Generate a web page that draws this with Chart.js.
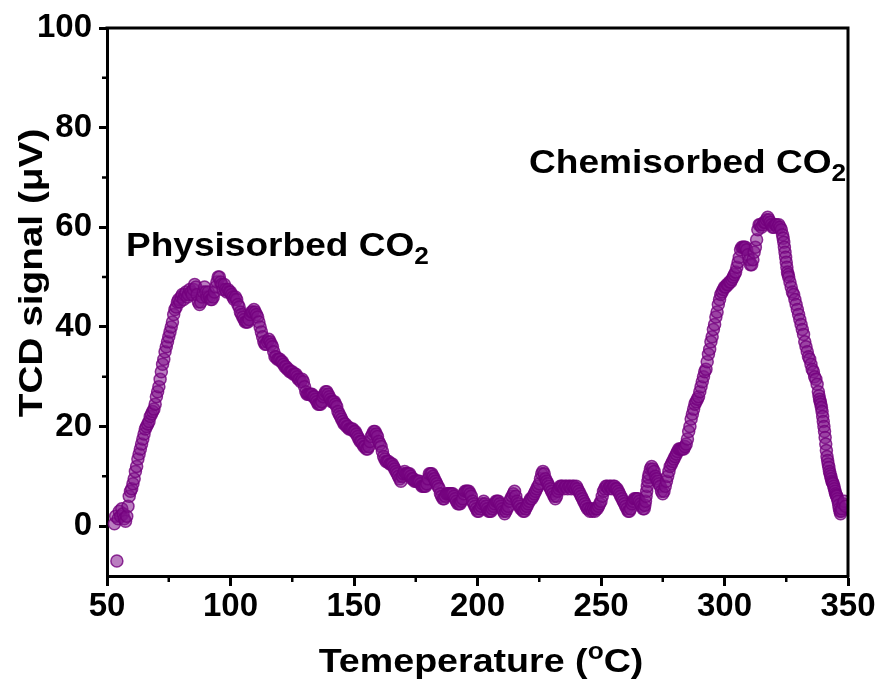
<!DOCTYPE html>
<html>
<head>
<meta charset="utf-8">
<title>TCD signal</title>
<script src="https://cdn.jsdelivr.net/npm/chart.js@4.4.1/dist/chart.umd.min.js"></script>
<style>
  html, body { margin: 0; padding: 0; background: #fff; }
  #chart { display: block; }
</style>
</head>
<body>
<canvas id="chart" width="880" height="686"></canvas>
<script>
// ==================== DATA ====================

const temperature = [
  53, 53.5, 54, 54.5, 55, 55.5, 56, 56.5, 57, 57.5,
  58, 58.5, 59, 59.5, 60, 60.5, 61, 61.5, 62, 62.5,
  63, 63.5, 64, 64.5, 65, 65.5, 66, 66.5, 67, 67.5,
  68, 68.5, 69, 69.5, 70, 70.5, 71, 71.5, 72, 72.5,
  73, 73.5, 74, 74.5, 75, 75.5, 76, 76.5, 77, 77.5,
  78, 78.5, 79, 79.5, 80, 80.5, 81, 81.5, 82, 82.5,
  83, 83.5, 84, 84.5, 85, 85.5, 86, 86.5, 87, 87.5,
  88, 88.5, 89, 89.5, 90, 90.5, 91, 91.5, 92, 92.5,
  93, 93.5, 94, 94.5, 95, 95.5, 96, 96.5, 97, 97.5,
  98, 98.5, 99, 99.5, 100, 100.5, 101, 101.5, 102, 102.5,
  103, 103.5, 104, 104.5, 105, 105.5, 106, 106.5, 107, 107.5,
  108, 108.5, 109, 109.5, 110, 110.5, 111, 111.5, 112, 112.5,
  113, 113.5, 114, 114.5, 115, 115.5, 116, 116.5, 117, 117.5,
  118, 118.5, 119, 119.5, 120, 120.5, 121, 121.5, 122, 122.5,
  123, 123.5, 124, 124.5, 125, 125.5, 126, 126.5, 127, 127.5,
  128, 128.5, 129, 129.5, 130, 130.5, 131, 131.5, 132, 132.5,
  133, 133.5, 134, 134.5, 135, 135.5, 136, 136.5, 137, 137.5,
  138, 138.5, 139, 139.5, 140, 140.5, 141, 141.5, 142, 142.5,
  143, 143.5, 144, 144.5, 145, 145.5, 146, 146.5, 147, 147.5,
  148, 148.5, 149, 149.5, 150, 150.5, 151, 151.5, 152, 152.5,
  153, 153.5, 154, 154.5, 155, 155.5, 156, 156.5, 157, 157.5,
  158, 158.5, 159, 159.5, 160, 160.5, 161, 161.5, 162, 162.5,
  163, 163.5, 164, 164.5, 165, 165.5, 166, 166.5, 167, 167.5,
  168, 168.5, 169, 169.5, 170, 170.5, 171, 171.5, 172, 172.5,
  173, 173.5, 174, 174.5, 175, 175.5, 176, 176.5, 177, 177.5,
  178, 178.5, 179, 179.5, 180, 180.5, 181, 181.5, 182, 182.5,
  183, 183.5, 184, 184.5, 185, 185.5, 186, 186.5, 187, 187.5,
  188, 188.5, 189, 189.5, 190, 190.5, 191, 191.5, 192, 192.5,
  193, 193.5, 194, 194.5, 195, 195.5, 196, 196.5, 197, 197.5,
  198, 198.5, 199, 199.5, 200, 200.5, 201, 201.5, 202, 202.5,
  203, 203.5, 204, 204.5, 205, 205.5, 206, 206.5, 207, 207.5,
  208, 208.5, 209, 209.5, 210, 210.5, 211, 211.5, 212, 212.5,
  213, 213.5, 214, 214.5, 215, 215.5, 216, 216.5, 217, 217.5,
  218, 218.5, 219, 219.5, 220, 220.5, 221, 221.5, 222, 222.5,
  223, 223.5, 224, 224.5, 225, 225.5, 226, 226.5, 227, 227.5,
  228, 228.5, 229, 229.5, 230, 230.5, 231, 231.5, 232, 232.5,
  233, 233.5, 234, 234.5, 235, 235.5, 236, 236.5, 237, 237.5,
  238, 238.5, 239, 239.5, 240, 240.5, 241, 241.5, 242, 242.5,
  243, 243.5, 244, 244.5, 245, 245.5, 246, 246.5, 247, 247.5,
  248, 248.5, 249, 249.5, 250, 250.5, 251, 251.5, 252, 252.5,
  253, 253.5, 254, 254.5, 255, 255.5, 256, 256.5, 257, 257.5,
  258, 258.5, 259, 259.5, 260, 260.5, 261, 261.5, 262, 262.5,
  263, 263.5, 264, 264.5, 265, 265.5, 266, 266.5, 267, 267.5, 267.75,
  268, 268.25, 268.5, 268.75, 269, 269.25, 269.5, 270, 270.5, 271, 271.5, 272, 272.5,
  273, 273.5, 274, 274.5, 275, 275.5, 276, 276.5, 277, 277.5,
  278, 278.5, 279, 279.5, 280, 280.5, 281, 281.5, 282, 282.5,
  283, 283.5, 284, 284.5, 285, 285.5, 286, 286.5, 287, 287.5,
  288, 288.5, 289, 289.5, 290, 290.5, 291, 291.5, 292, 292.5,
  293, 293.5, 294, 294.5, 295, 295.5, 296, 296.5, 297, 297.5,
  298, 298.5, 299, 299.5, 300, 300.5, 301, 301.5, 302, 302.5,
  303, 303.5, 304, 304.5, 305, 305.5, 306, 306.5, 307, 307.5,
  308, 308.5, 309, 309.5, 310, 310.5, 311, 311.5, 312, 312.5,
  313, 313.5, 314, 314.5, 315, 315.5, 316, 316.5, 317, 317.5,
  318, 318.5, 319, 319.5, 320, 320.5, 321, 321.5, 322, 322.5,
  323, 323.5, 323.75, 324, 324.25, 324.5, 324.75, 325, 325.25, 325.5, 325.75, 326, 326.5, 327, 327.5,
  328, 328.5, 329, 329.5, 330, 330.5, 331, 331.5, 332, 332.5,
  333, 333.5, 334, 334.5, 335, 335.5, 336, 336.5, 337, 337.5,
  338, 338.25, 338.5, 338.75, 339, 339.25, 339.5, 339.75, 340, 340.25,
  340.5, 340.75, 341, 341.25, 341.5, 341.75, 342, 342.25, 342.5, 342.75,
  343, 343.25, 343.5, 343.75, 344, 344.25, 344.5, 344.75, 345, 345.25,
  345.5, 345.75, 346, 346.25, 346.5, 346.75, 347, 347.25, 347.5,
  348, 348.5, 349
];

const tcdSignal = [
  0.5, 2, -7, 1.5, 3, 2, 3.5, 2.5, 1.5, 1,
  2, 4, 6, 7, 7.5, 8.5, 9.5, 11, 12, 13.5,
  14.5, 15.5, 16.5, 17.5, 18.5, 19.5, 20, 20.5, 21, 22,
  22.5, 23, 23.5, 24.5, 26, 27, 28, 29.5, 31, 32.5,
  33.5, 35, 36, 37, 38, 39, 40, 41, 42.5, 43.5,
  44, 45, 45.5, 45, 46, 46.5, 45.5, 46.5, 47, 46,
  46.5, 47.5, 47, 46.5, 47.5, 48.5, 48, 46.5, 45, 44.5,
  45, 46, 47, 48, 47, 46, 47, 46, 45.5, 45.5,
  46, 47, 48, 49, 50, 50, 49, 48.5, 47.5, 48.5,
  47.5, 47, 47.5, 47, 47, 46.5, 46, 45.5, 46, 45.5,
  44.5, 44, 43, 42.5, 42, 41.5, 41, 41, 41, 41.5,
  42.5, 43, 43, 43.5, 43, 42.5, 42, 41, 40, 39,
  38, 37, 36.5, 36.5, 37, 37.5, 37, 36.5, 36, 35,
  34, 34, 33.5, 33.5, 33.5, 33, 33, 32.5, 32, 32,
  31.5, 31.5, 31, 31, 31, 30.5, 30.5, 30.5, 30, 29.5,
  29.5, 29, 29.5, 29, 28, 27, 26.5, 26.5, 26.5, 26.5,
  26.5, 26, 26, 25.5, 25, 24.5, 24.5, 24.5, 25, 26,
  26.5, 27, 27, 26.5, 26, 25.5, 25, 25, 25, 24.5,
  24, 23, 22.5, 22, 21.5, 21, 20.5, 20.5, 20, 20,
  19.5, 19.5, 19.5, 19.5, 19, 19, 18.5, 18, 17.5, 17,
  17, 16.5, 16, 16, 15.5, 15.5, 16, 17, 18, 18.5,
  19, 19, 18.5, 18, 17, 16.5, 16, 15, 14, 13.5,
  13, 13, 13, 12.5, 12.5, 12.5, 12, 11.5, 11, 10.5,
  10, 9.5, 9, 10, 10.5, 11, 10.5, 10.5, 10.5, 10.5,
  10, 9.5, 9.5, 9, 9, 9, 9, 9, 8.5, 8,
  8, 8, 8, 8.5, 9.5, 10.5, 10.5, 10.5, 10, 9.5,
  9, 8.5, 8, 7.5, 6.5, 6, 5.5, 5.5, 6, 6.5,
  6.5, 6.5, 6.5, 6.5, 6.5, 6, 5.5, 5, 4.5, 4.5,
  4.5, 5, 5.5, 6.5, 7, 7, 7, 7, 6.5, 6,
  5, 4.5, 4, 3.5, 3, 3, 3.5, 4, 4.5, 5,
  4.5, 4, 3.5, 3, 3, 3, 3.5, 4, 4.5, 5,
  5, 5, 4.5, 4, 3.5, 3, 2.5, 3, 3.5, 4,
  5, 5.5, 6, 6.5, 7, 6, 5, 4.5, 4, 3.5,
  3.5, 3, 3, 3.5, 4, 4.5, 5, 5.5, 5.5, 6,
  6.5, 7, 7.5, 8, 8.5, 9.5, 10.5, 11, 10.5, 9.5,
  9, 8.5, 8, 7.5, 7, 6.5, 6, 5.5, 6, 7,
  7.5, 8, 8, 8, 7.5, 8, 8, 7.5, 8, 8,
  7.5, 8, 8, 7.5, 8, 7.5, 7, 6.5, 6, 5.5,
  5, 4.5, 4, 3.5, 3.5, 3, 3.5, 3, 3.5, 3,
  3.5, 3.5, 4, 4.5, 5, 6, 7, 7.5, 8, 8,
  7.5, 8, 8, 7.5, 8, 8, 7.5, 7.5, 7, 6.5,
  6, 5.5, 5, 4.5, 4, 3.5, 3, 3, 3.5, 4.5,
  5, 5.5, 5.5, 5.5, 5.5, 5, 4.5, 4, 3.5, 3.5, 4.2,
  5, 6, 7, 8, 9, 9.8, 10.5, 11.5, 12, 11.5, 11, 10, 9.5,
  9, 8.5, 8, 7, 6.5, 7, 8, 9, 10, 11,
  12, 12.5, 13, 13.5, 14, 14.5, 15, 15.5, 15.5, 15.5,
  15.5, 15.5, 16, 16.5, 17.5, 19, 20, 21.5, 22.5, 23.5,
  24.5, 25, 25.5, 26, 27, 28, 29, 30, 31, 31.5,
  33, 34.5, 35.5, 37, 38, 39.5, 40.5, 42, 43, 44.5,
  45.5, 46.5, 47, 47.5, 48, 48, 48.5, 48.5, 49, 49,
  49.5, 50, 50.5, 51, 52, 53, 54, 55.5, 56, 56,
  56, 56, 55.5, 54.5, 53.5, 52.5, 52.5, 53.5, 55, 56,
  57.5, 59.5, 60.5, 60.5, 60, 60.5, 61, 61, 61.5, 62,
  61.5, 61, 60.5, 60, 60, 60.5, 60.5, 60, 60.5, 60,
  59.5, 58.5, 57.8, 57, 56, 55, 54, 53, 52, 51, 50.5, 50, 49, 48, 47,
  46.5, 45.5, 44.5, 43.5, 42.5, 41.5, 40.5, 39.5, 38.5, 37,
  36, 35, 34, 33.5, 32.5, 31.5, 31, 30, 29.5, 28.5,
  27, 26.2, 25.5, 25, 24.5, 23.8, 23, 22, 21, 20,
  19, 17.8, 16.5, 15.2, 14, 13.2, 12.5, 11.8, 11, 10.5,
  10, 9.5, 9, 8.7, 8.5, 8, 7.5, 7, 6.5, 6.2,
  6, 5.5, 5, 4.2, 3.5, 3, 2.5, 3, 3.5,
  4.5, 5, 4
];

// axis ticks
const xTicks = [50, 100, 150, 200, 250, 300, 350];
const xMinorTicks = [75, 125, 175, 225, 275, 325];
const yTicks = [0, 20, 40, 60, 80, 100];
const yMinorTicks = [10, 30, 50, 70, 90];

// ==================== STYLE ====================

const FONT = "'Liberation Sans', Arial, Helvetica, sans-serif";
const STRETCH = 1.14; // the original lettering is a bit wider than normal

if (temperature.length !== tcdSignal.length) {
  console.error("data length mismatch", temperature.length, tcdSignal.length);
}
const points = temperature.map((t, i) => ({ x: t, y: tcdSignal[i] }));

// draws text made of parts (normal / sub / superscript), slightly stretched
function drawRich(ctx, parts, x, y, align) {
  ctx.save();
  ctx.textBaseline = "alphabetic";
  ctx.textAlign = "left";
  let total = 0;
  parts.forEach((p) => {
    ctx.font = "bold " + p.size + "px " + FONT;
    p.w = ctx.measureText(p.text).width;
    total += p.w;
  });
  ctx.translate(x, y);
  ctx.scale(STRETCH, 1);
  let cx = align === "center" ? -total / 2 : 0;
  parts.forEach((p) => {
    ctx.font = "bold " + p.size + "px " + FONT;
    ctx.fillText(p.text, cx, p.dy || 0);
    cx += p.w;
  });
  ctx.restore();
}

const decorPlugin = {
  id: "decor",
  afterDraw(chart) {
    const ctx = chart.ctx;
    const area = chart.chartArea;
    const xs = chart.scales.x;
    const ys = chart.scales.y;

    ctx.save();
    ctx.strokeStyle = "#000";
    ctx.fillStyle = "#000";

    // top and right frame
    ctx.lineWidth = 3;
    ctx.beginPath();
    ctx.moveTo(area.left - 1.5, area.top);
    ctx.lineTo(area.right, area.top);
    ctx.lineTo(area.right, area.bottom + 1.5);
    ctx.stroke();

    // minor ticks
    ctx.lineWidth = 2.5;
    ctx.beginPath();
    xMinorTicks.forEach((v) => {
      const px = xs.getPixelForValue(v);
      ctx.moveTo(px, area.bottom);
      ctx.lineTo(px, area.bottom + 6);
    });
    yMinorTicks.forEach((v) => {
      const py = ys.getPixelForValue(v);
      ctx.moveTo(area.left, py);
      ctx.lineTo(area.left - 5, py);
    });
    ctx.stroke();

    // y title (rotated)
    ctx.save();
    ctx.translate(33, 273);
    ctx.rotate(-Math.PI / 2);
    ctx.scale(STRETCH, 1);
    ctx.font = "bold 34px " + FONT;
    ctx.textAlign = "center";
    ctx.textBaseline = "middle";
    ctx.fillText("TCD signal (\u03BCV)", 0, 0);
    ctx.restore();

    // x title
    drawRich(ctx, [
      { text: "Temeperature (", size: 33 },
      { text: "o", size: 23, dy: -13 },
      { text: "C)", size: 33 },
    ], 481, 672, "center");

    // peak labels
    drawRich(ctx, [
      { text: "Physisorbed CO", size: 32.5 },
      { text: "2", size: 23, dy: 8 },
    ], 126, 256, "left");
    drawRich(ctx, [
      { text: "Chemisorbed CO", size: 32.5 },
      { text: "2", size: 23, dy: 8 },
    ], 529, 173, "left");

    ctx.restore();
  },
};

// ==================== CHART ====================

const tickFont = { family: FONT, size: 33, weight: "bold" };

new Chart(document.getElementById("chart").getContext("2d"), {
  type: "scatter",
  data: {
    datasets: [
      {
        data: points,
        pointRadius: 6,
        pointBackgroundColor: "rgba(130, 20, 140, 0.55)",
        pointBorderColor: "rgba(115, 0, 125, 0.8)",
        pointBorderWidth: 1.5,
      },
    ],
  },
  options: {
    responsive: false,
    animation: false,
    layout: { padding: { left: 0, right: 32, top: 28, bottom: 0 } },
    plugins: {
      legend: { display: false },
      tooltip: { enabled: false },
    },
    scales: {
      x: {
        type: "linear",
        min: 50,
        max: 350,
        afterBuildTicks: (s) => {
          s.ticks = xTicks.map((v) => ({ value: v }));
        },
        afterFit: (s) => {
          s.height = 110;
        },
        grid: {
          drawOnChartArea: false,
          tickLength: 10,
          tickWidth: 3,
          tickColor: "#000",
        },
        border: { display: true, width: 3, color: "#000" },
        ticks: { font: tickFont, color: "#000", padding: 1, maxRotation: 0 },
      },
      y: {
        type: "linear",
        min: -10,
        max: 100,
        afterBuildTicks: (s) => {
          s.ticks = yTicks.map((v) => ({ value: v }));
        },
        afterFit: (s) => {
          s.width = 107;
        },
        grid: {
          drawOnChartArea: false,
          tickLength: 8,
          tickWidth: 3,
          tickColor: "#000",
        },
        border: { display: true, width: 3, color: "#000" },
        ticks: { font: tickFont, color: "#000", padding: 7 },
      },
    },
  },
  plugins: [decorPlugin],
});
</script>
</body>
</html>
